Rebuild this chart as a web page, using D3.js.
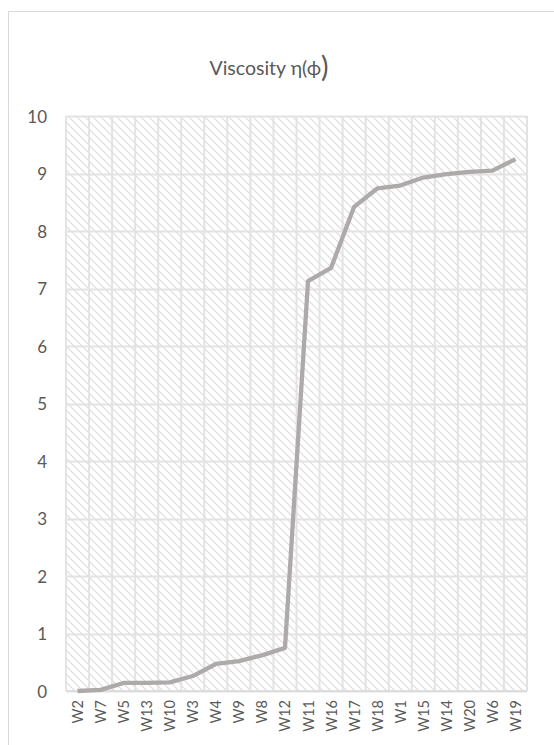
<!DOCTYPE html>
<html>
<head>
<meta charset="utf-8">
<script src="https://cdn.jsdelivr.net/npm/d3@7"></script>
<style>
  html, body { margin: 0; padding: 0; background: #ffffff; }
  svg { display: block; }
</style>
</head>
<body>
<svg id="chart" width="554" height="745"></svg>
<script>
// Sample order along the category axis
const categories = ["W2","W7","W5","W13","W10","W3","W4","W9","W8","W12",
                    "W11","W16","W17","W18","W1","W15","W14","W20","W6","W19"];
// Viscosity η(ϕ) per sample
const viscosity = [0.00, 0.02, 0.14, 0.14, 0.15, 0.26, 0.47, 0.52, 0.62, 0.75,
                   7.13, 7.36, 8.42, 8.74, 8.79, 8.93, 8.99, 9.03, 9.05, 9.25];
// Value axis ticks
const yTicks = [0, 1, 2, 3, 4, 5, 6, 7, 8, 9, 10];

const svg = d3.select("#chart");
const font = "Lato, 'Open Sans', 'DejaVu Sans', sans-serif";
const textColor = "#595959";

// Chart frame
svg.append("path")
  .attr("d", "M8.5,760 V11.5 H570")
  .attr("fill", "none")
  .attr("stroke", "#d9d9d9")
  .attr("stroke-width", 1);

const plot = { left: 66, right: 527, top: 116, bottom: 691 };

const x = d3.scaleBand()
  .domain(categories)
  .range([plot.left, plot.right])
  .paddingInner(0).paddingOuter(0);

const y = d3.scaleLinear()
  .domain([0, 10])
  .range([plot.bottom, plot.top]);

// Diagonal hatch fill for the plot area
const defs = svg.append("defs");
const pat = defs.append("pattern")
  .attr("id", "hatch")
  .attr("patternUnits", "userSpaceOnUse")
  .attr("width", 8).attr("height", 8);
pat.append("rect").attr("width", 8).attr("height", 8).attr("fill", "#ffffff");
pat.append("path")
  .attr("d", "M-2,-2 L10,10 M-2,6 L2,10 M6,-2 L10,2")
  .attr("stroke", "#dddddd")
  .attr("stroke-width", 1.2);

svg.append("rect")
  .attr("x", plot.left).attr("y", plot.top)
  .attr("width", plot.right - plot.left)
  .attr("height", plot.bottom - plot.top)
  .attr("fill", "url(#hatch)");

// Horizontal gridlines
svg.append("g")
  .selectAll("line")
  .data(yTicks)
  .join("line")
  .attr("x1", plot.left).attr("x2", plot.right)
  .attr("y1", d => Math.round(y(d)) + 0.5)
  .attr("y2", d => Math.round(y(d)) + 0.5)
  .attr("stroke", "#e3e3e3")
  .attr("stroke-width", 2);

// Vertical gridlines at category boundaries
const bounds = categories.map(c => x(c)).concat([plot.right]);
svg.append("g")
  .selectAll("line")
  .data(bounds)
  .join("line")
  .attr("x1", d => d).attr("x2", d => d)
  .attr("y1", plot.top).attr("y2", plot.bottom)
  .attr("stroke", "#e3e3e3")
  .attr("stroke-width", 2);

// Category axis baseline
svg.append("line")
  .attr("x1", plot.left).attr("x2", plot.right)
  .attr("y1", y(0)).attr("y2", y(0))
  .attr("stroke", "#d9d9d9")
  .attr("stroke-width", 1.5);

// Value axis labels
const yAxis = d3.axisLeft(y).tickValues(yTicks).tickSize(0).tickPadding(0).tickFormat(d3.format("d"));
const gy = svg.append("g")
  .attr("transform", `translate(47,0)`)
  .call(yAxis);
gy.select(".domain").remove();
gy.selectAll("text")
  .attr("fill", textColor)
  .attr("font-family", font)
  .attr("font-size", 17)
  .attr("dy", "0.36em");

// Category axis labels (rotated)
const xAxis = d3.axisBottom(x).tickSize(0).tickPadding(0);
const gx = svg.append("g")
  .attr("transform", `translate(0,${plot.bottom})`)
  .call(xAxis);
gx.select(".domain").remove();
gx.selectAll("text")
  .attr("fill", textColor)
  .attr("font-family", font)
  .attr("font-size", 14.5)
  .attr("text-anchor", "end")
  .attr("dy", null)
  .attr("transform", "translate(0,9) rotate(-90)")
  .attr("x", 0).attr("y", 0)
  .attr("dominant-baseline", "central");

// Viscosity line
const line = d3.line()
  .x((d, i) => x(categories[i]) + x.bandwidth() / 2)
  .y(d => y(d));

svg.append("path")
  .datum(viscosity)
  .attr("d", line)
  .attr("fill", "none")
  .attr("stroke", "#aeaaaa")
  .attr("stroke-width", 4.3)
  .attr("stroke-linejoin", "round");

// Title
const title = svg.append("text")
  .attr("x", 269).attr("y", 75)
  .attr("text-anchor", "middle")
  .attr("fill", textColor)
  .attr("font-family", font)
  .attr("font-size", 19.5);
title.append("tspan").text("Viscosity η(ϕ");
title.append("tspan").attr("font-size", 28).attr("dy", 2).text(")");
</script>
</body>
</html>
